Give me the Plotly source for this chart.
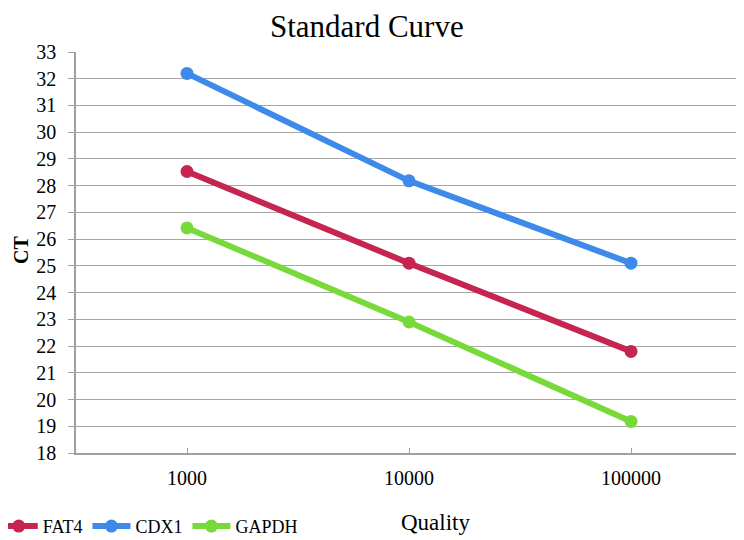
import plotly.graph_objects as go

quantity = [1000, 10000, 100000]
tick_labels = ["1000", "10000", "100000"]
fat4 = [28.53, 25.1, 21.8]
cdx1 = [32.2, 28.18, 25.1]
gapdh = [26.42, 22.9, 19.18]

series = [("FAT4", fat4, "#C5254F"), ("CDX1", cdx1, "#3D8AEB"), ("GAPDH", gapdh, "#78D93A")]

fig = go.Figure()
for name, vals, col in series:
    fig.add_trace(go.Scatter(x=quantity, y=vals, name=name, mode="lines+markers",
                             line=dict(color=col, width=6),
                             marker=dict(color=col, size=13)))

font = "Liberation Serif, Times New Roman, serif"
# page body has an 8px margin, so the figure is 8px smaller than the window
fig.update_layout(
    width=736, height=532,
    margin=dict(l=68, r=2, t=44, b=87, autoexpand=False),
    paper_bgcolor="white", plot_bgcolor="white",
    font=dict(family=font, color="black", size=20),
    showlegend=True,
    legend=dict(orientation="h", x=-0.122, xanchor="left", y=-0.183, yanchor="middle",
                font=dict(size=18, family=font), tracegroupgap=0, itemwidth=38,
                bgcolor="rgba(0,0,0,0)"),
    xaxis=dict(type="log", range=[2.5, 5.5], tickvals=quantity, ticktext=tick_labels,
               ticks="inside", ticklen=5, tickcolor="#A0A0A0",
               showline=True, linecolor="#A0A0A0", linewidth=1.5,
               showgrid=False, zeroline=False, automargin=False,
               tickfont=dict(size=20, family=font), ticklabelstandoff=6),
    yaxis=dict(range=[18, 33], dtick=1, tick0=18,
               ticks="outside", ticklen=6, tickcolor="#A0A0A0",
               showline=True, linecolor="#A0A0A0", linewidth=1.5,
               showgrid=True, gridcolor="#A6A6A6", gridwidth=1, zeroline=False,
               automargin=False,
               tickfont=dict(size=20, family=font), ticklabelstandoff=8),
    annotations=[
        dict(text="Standard Curve", xref="paper", yref="paper", x=(367 - 76) / 666,
             y=1 + 44 / 401,
             xanchor="center", yanchor="top", showarrow=False, borderpad=0,
             font=dict(size=31, family=font)),
        dict(text="<b>CT</b>", xref="paper", yref="paper", x=(21 - 76) / 666, y=(453 - 250) / 401,
             xanchor="center", yanchor="middle", showarrow=False, textangle=-90,
             font=dict(size=20, family=font)),
        dict(text="Quality", xref="paper", yref="paper", x=(435 - 76) / 666, y=-(522 - 453) / 401,
             xanchor="center", yanchor="middle", showarrow=False,
             font=dict(size=23, family=font)),
    ],
)

fig.write_html("out.html")
